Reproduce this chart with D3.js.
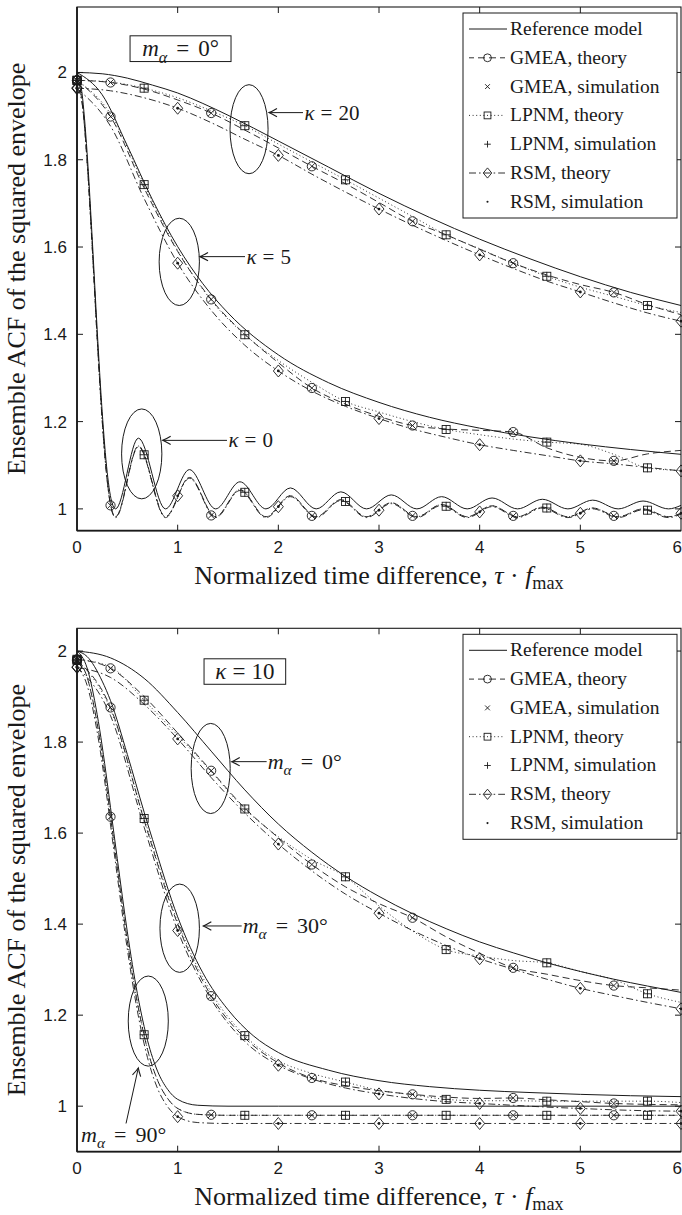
<!DOCTYPE html>
<html>
<head>
<meta charset="utf-8">
<script src="https://cdn.jsdelivr.net/npm/d3@7"></script>
<style>
  body { margin: 0; background: #fff; }
  svg { display: block; }
</style>
</head>
<body>
<svg id="chart" width="682" height="1215"></svg>
<script>
// ---- data ----
const xTicks = [0, 1, 2, 3, 4, 5, 6];
const yTicks = [1, 1.2, 1.4, 1.6, 1.8, 2];
const yTickLabels = ["1", "1.2", "1.4", "1.6", "1.8", "2"];

// common grid for the theory curves (every third)
const xThirds = [0, 0.333, 0.667, 1, 1.333, 1.667, 2, 2.333, 2.667, 3, 3.333, 3.667, 4, 4.333, 4.667, 5, 5.333, 5.667, 6];
const gmeaMarkX = [0, 0.333, 1.333, 2.333, 3.333, 4.333, 5.333];
const lpnmMarkX = [0, 0.667, 1.667, 2.667, 3.667, 4.667, 5.667];
const rsmMarkX = [0, 1, 2, 3, 4, 5, 6];

const legendNames = ["Reference model", "GMEA, theory", "GMEA, simulation", "LPNM, theory", "LPNM, simulation", "RSM, theory", "RSM, simulation"];

// top panel, m_alpha = 0 deg
const xRefA = [0, 0.25, 0.5, 0.75, 1, 1.25, 1.5, 2, 2.5, 3, 3.5, 4, 4.5, 5, 5.5, 6];
const refK20 = [2.0, 1.997, 1.987, 1.971, 1.953, 1.929, 1.902, 1.843, 1.783, 1.723, 1.668, 1.618, 1.573, 1.532, 1.496, 1.466];
const refK5 = [2.0, 1.949, 1.832, 1.708, 1.601, 1.516, 1.449, 1.353, 1.289, 1.244, 1.210, 1.185, 1.165, 1.149, 1.136, 1.125];
const gmeaK20 = [1.982, 1.977, 1.962, 1.937, 1.907, 1.868, 1.827, 1.785, 1.745, 1.702, 1.659, 1.628, 1.595, 1.563, 1.536, 1.514, 1.496, 1.468, 1.445];
const lpnmK20 = [1.982, 1.978, 1.964, 1.942, 1.912, 1.878, 1.836, 1.795, 1.754, 1.712, 1.670, 1.628, 1.596, 1.563, 1.533, 1.508, 1.487, 1.466, 1.450];
const rsmK20 = [1.964, 1.958, 1.942, 1.918, 1.885, 1.847, 1.810, 1.767, 1.726, 1.687, 1.650, 1.615, 1.582, 1.551, 1.522, 1.497, 1.472, 1.449, 1.430];
const gmeaK5 = [1.982, 1.899, 1.735, 1.590, 1.480, 1.400, 1.335, 1.277, 1.240, 1.212, 1.191, 1.183, 1.180, 1.176, 1.140, 1.118, 1.110, 1.126, 1.134];
const lpnmK5 = [1.982, 1.905, 1.743, 1.592, 1.478, 1.399, 1.340, 1.290, 1.246, 1.222, 1.200, 1.182, 1.170, 1.160, 1.153, 1.148, 1.125, 1.094, 1.088];
const rsmK5 = [1.963, 1.877, 1.711, 1.563, 1.455, 1.375, 1.316, 1.270, 1.235, 1.207, 1.183, 1.164, 1.147, 1.134, 1.122, 1.110, 1.103, 1.095, 1.087];

// kappa = 0 oscillates, so it gets its own grid (peaks and troughs)
const xOsc = [0, 0.05, 0.1, 0.15, 0.2, 0.25, 0.3, 0.35, 0.383, 0.61, 0.879, 1.117, 1.377, 1.619, 1.877, 2.12, 2.376, 2.621, 2.876, 3.122, 3.376, 3.622, 3.876, 4.123, 4.376, 4.623, 4.876, 5.123, 5.376, 5.623, 5.876, 6];
const refK0 = [2.0, 1.952, 1.817, 1.624, 1.412, 1.223, 1.084, 1.012, 1.0, 1.162, 1.0, 1.090, 1.0, 1.062, 1.0, 1.048, 1.0, 1.039, 1.0, 1.032, 1.0, 1.028, 1.0, 1.025, 1.0, 1.022, 1.0, 1.020, 1.0, 1.018, 1.0, 1.008];
const gmeaK0 = [1.982, 1.934, 1.799, 1.606, 1.394, 1.205, 1.066, 0.994, 0.982, 1.144, 0.982, 1.072, 0.982, 1.044, 0.982, 1.030, 0.982, 1.021, 0.982, 1.014, 0.982, 1.010, 0.982, 1.007, 0.982, 1.004, 0.982, 1.002, 0.982, 1.000, 0.982, 0.990];
const lpnmK0 = [1.982, 1.934, 1.799, 1.606, 1.394, 1.205, 1.066, 0.994, 0.982, 1.144, 0.982, 1.072, 0.982, 1.044, 0.982, 1.030, 0.982, 1.021, 0.982, 1.014, 0.982, 1.010, 0.982, 1.007, 0.982, 1.004, 0.982, 1.002, 0.982, 1.000, 0.982, 0.990];
const rsmK0 = [1.965, 1.930, 1.797, 1.604, 1.392, 1.203, 1.064, 0.992, 0.980, 1.142, 0.980, 1.070, 0.980, 1.042, 0.980, 1.028, 0.980, 1.019, 0.980, 1.012, 0.980, 1.008, 0.980, 1.005, 0.980, 1.002, 0.980, 1.000, 0.980, 0.998, 0.980, 0.988];
const gmeaK0Marks = [1.982, 1.008, 0.985, 0.984, 0.984, 0.984, 0.984];
const lpnmK0Marks = [1.982, 1.124, 1.038, 1.017, 1.006, 1.002, 0.997];
const rsmK0Marks = [1.965, 1.030, 1.005, 0.997, 0.993, 0.990, 0.990];

// bottom panel, kappa = 10
const refM0 = [2.0, 1.985, 1.940, 1.865, 1.780, 1.695, 1.620, 1.558, 1.505, 1.461, 1.423, 1.390, 1.361, 1.337, 1.315, 1.296, 1.279, 1.264, 1.250];
const gmeaM0 = [1.982, 1.962, 1.900, 1.820, 1.737, 1.655, 1.590, 1.531, 1.482, 1.445, 1.414, 1.372, 1.336, 1.304, 1.290, 1.276, 1.265, 1.260, 1.255];
const lpnmM0 = [1.982, 1.965, 1.892, 1.815, 1.735, 1.653, 1.592, 1.542, 1.504, 1.440, 1.385, 1.344, 1.330, 1.320, 1.315, 1.296, 1.278, 1.247, 1.228];
const rsmM0 = [1.964, 1.942, 1.883, 1.807, 1.722, 1.644, 1.576, 1.517, 1.466, 1.424, 1.386, 1.353, 1.324, 1.301, 1.279, 1.259, 1.243, 1.228, 1.214];

const xRefM30 = [0, 0.1, 0.25, 0.333, 0.5, 0.667, 0.75, 1, 1.25, 1.5, 1.75, 2, 2.5, 3, 3.5, 4, 4.5, 5, 5.5, 6];
const refM30 = [2.0, 1.988, 1.934, 1.891, 1.773, 1.646, 1.586, 1.416, 1.293, 1.212, 1.155, 1.118, 1.079, 1.056, 1.043, 1.035, 1.030, 1.026, 1.023, 1.021];
const gmeaM30 = [1.980, 1.876, 1.628, 1.400, 1.242, 1.150, 1.095, 1.062, 1.045, 1.034, 1.026, 1.020, 1.017, 1.018, 1.014, 1.010, 1.006, 1.004, 1.003];
const lpnmM30 = [1.980, 1.872, 1.632, 1.405, 1.250, 1.155, 1.100, 1.072, 1.053, 1.035, 1.025, 1.015, 1.012, 1.012, 1.011, 1.011, 1.011, 1.011, 1.008];
const rsmM30 = [1.965, 1.858, 1.613, 1.386, 1.235, 1.142, 1.090, 1.060, 1.040, 1.027, 1.017, 1.010, 1.006, 1.002, 0.998, 0.995, 0.992, 0.990, 0.989];

const xM90 = [0, 0.1, 0.2, 0.3, 0.333, 0.4, 0.5, 0.6, 0.667, 0.7, 0.8, 0.9, 1.0, 1.2, 1.5, 2, 3, 4, 5, 6];
const refM90 = [2.0, 1.963, 1.861, 1.712, 1.656, 1.544, 1.383, 1.247, 1.175, 1.145, 1.077, 1.037, 1.015, 1.002, 1.0, 1.0, 1.0, 1.0, 1.0, 1.0];
const gmeaM90 = [1.980, 1.943, 1.841, 1.692, 1.636, 1.524, 1.363, 1.227, 1.155, 1.125, 1.057, 1.017, 0.995, 0.982, 0.980, 0.980, 0.980, 0.980, 0.980, 0.980];
const lpnmM90 = [1.980, 1.943, 1.841, 1.692, 1.636, 1.524, 1.363, 1.227, 1.157, 1.125, 1.057, 1.017, 0.995, 0.982, 0.980, 0.980, 0.980, 0.980, 0.980, 0.980];
const rsmM90 = [1.965, 1.925, 1.823, 1.674, 1.618, 1.506, 1.345, 1.209, 1.137, 1.107, 1.039, 0.999, 0.977, 0.964, 0.962, 0.962, 0.962, 0.962, 0.962, 0.962];

// ---- drawing ----
const svg = d3.select("#chart");
const serif = "'Liberation Serif', 'Times New Roman', serif";
const sans = "'Liberation Sans', Arial, sans-serif";
const ink = "#1a1a1a";

const x = d3.scaleLinear().domain([0, 6]).range([77, 681]);

const methods = [
    { key: "gmea", dash: "7,4", mark: "circle", sim: "cross", markX: gmeaMarkX },
    { key: "lpnm", dash: "1,2.6", mark: "square", sim: "plus", markX: lpnmMarkX },
    { key: "rsm", dash: "7,3,1.6,3", mark: "diamond", sim: "dot", markX: rsmMarkX }
];

// linear lookup of a series at a given x
function valueAt(xs, ys, xv) {
    const i = d3.bisectLeft(xs, xv - 1e-6);
    if (i <= 0) return ys[0];
    if (i >= xs.length) return ys[ys.length - 1];
    const t = (xv - xs[i - 1]) / (xs[i] - xs[i - 1]);
    return ys[i - 1] + t * (ys[i] - ys[i - 1]);
}

function drawMark(g, type, cx, cy, s) {
    const st = { stroke: ink, "stroke-width": 0.9, fill: "none" };
    let el;
    if (type === "circle") {
        el = g.append("circle").attr("cx", cx).attr("cy", cy).attr("r", 4.6 * s);
    } else if (type === "square") {
        el = g.append("rect").attr("x", cx - 4 * s).attr("y", cy - 4 * s).attr("width", 8 * s).attr("height", 8 * s);
    } else if (type === "diamond") {
        el = g.append("path").attr("d", `M${cx},${cy - 6 * s}L${cx + 5 * s},${cy}L${cx},${cy + 6 * s}L${cx - 5 * s},${cy}Z`);
    } else if (type === "cross") {
        const a = 3.2 * s;
        el = g.append("path").attr("d", `M${cx - a},${cy - a}L${cx + a},${cy + a}M${cx - a},${cy + a}L${cx + a},${cy - a}`);
    } else if (type === "plus") {
        const a = 4.4 * s;
        el = g.append("path").attr("d", `M${cx - a},${cy}L${cx + a},${cy}M${cx},${cy - a}L${cx},${cy + a}`);
    } else {
        el = g.append("circle").attr("cx", cx).attr("cy", cy).attr("r", 1.4 * s);
        st.fill = ink; st.stroke = "none";
    }
    Object.entries(st).forEach(([k, v]) => el.attr(k, v));
}

// math-ish label built from parts: {t, it, sub, dx}
function mathText(g, px, py, parts, size, sub) {
    const drop = size * (sub || 0.28);
    const t = g.append("text").attr("x", px).attr("y", py)
        .attr("font-family", serif).attr("font-size", size).attr("fill", ink);
    let down = 0;
    parts.forEach(p => {
        const ts = t.append("tspan").text(p.t);
        if (p.it) ts.attr("font-style", "italic");
        if (p.dx) ts.attr("dx", p.dx);
        if (p.sub && !down) { ts.attr("dy", drop).attr("font-size", size * 0.7); down = drop; }
        else if (p.sub) { ts.attr("font-size", size * 0.7); }
        else if (down) { ts.attr("dy", -down); down = 0; }
    });
    return t;
}

function arrow(g, x1, y1, x2, y2) {
    g.append("line").attr("x1", x1).attr("y1", y1).attr("x2", x2).attr("y2", y2)
        .attr("stroke", ink).attr("stroke-width", 1);
    const ang = Math.atan2(y2 - y1, x2 - x1) * 180 / Math.PI;
    g.append("path")
        .attr("d", "M-8,-4.2Q-3,-1.2 0,0Q-3,1.2 -8,4.2")
        .attr("transform", `translate(${x2},${y2}) rotate(${ang})`)
        .attr("fill", "none").attr("stroke", ink).attr("stroke-width", 1.1);
}

function drawPanel(p) {
    const y = d3.scaleLinear().domain(p.yDomain).range([p.bottom, p.top]);
    const g = svg.append("g");
    const left = x(0), right = x(6);

    svg.append("clipPath").attr("id", "clip" + p.id).append("rect")
        .attr("x", left).attr("y", p.top).attr("width", right - left).attr("height", p.bottom - p.top);
    const plot = g.append("g").attr("clip-path", `url(#clip${p.id})`);
    const marks = g.append("g");

    const line = d3.line().x(d => x(d[0])).y(d => y(d[1])).curve(d3.curveMonotoneX);

    p.groups.forEach(gr => {
        plot.append("path").datum(d3.zip(gr.refX, gr.ref)).attr("d", line)
            .attr("fill", "none").attr("stroke", ink).attr("stroke-width", 1);
        methods.forEach((m, mi) => {
            const ys = gr.models[mi];
            plot.append("path").datum(d3.zip(gr.modelX, ys)).attr("d", line)
                .attr("fill", "none").attr("stroke", ink).attr("stroke-width", 0.9)
                .attr("stroke-dasharray", m.dash);
            m.markX.forEach((mx, k) => {
                const my = gr.marks ? gr.marks[mi][k] : valueAt(gr.modelX, ys, mx);
                drawMark(marks, m.mark, x(mx), y(my), 1);
                drawMark(marks, m.sim, x(mx), y(my), 1);
            });
        });
    });

    // frame, ticks inward on all four sides
    g.append("rect").attr("x", left).attr("y", p.top).attr("width", right - left).attr("height", p.bottom - p.top)
        .attr("fill", "none").attr("stroke", ink).attr("stroke-width", 1.1);
    g.append("line").attr("x1", left).attr("x2", left).attr("y1", p.top).attr("y2", p.bottom)
        .attr("stroke", ink).attr("stroke-width", 1.8);
    g.append("line").attr("x1", left).attr("x2", right).attr("y1", p.bottom).attr("y2", p.bottom)
        .attr("stroke", ink).attr("stroke-width", 1.8);

    xTicks.forEach(v => {
        // the last label sits on the page edge, keep it inside
        const lastOne = v === 6;
        g.append("text").attr("x", lastOne ? 682 : x(v)).attr("y", p.bottom + 22)
            .attr("text-anchor", lastOne ? "end" : "middle")
            .attr("font-family", sans).attr("font-size", 17).attr("fill", ink).text(v);
        if (v > 0 && v < 6) {
            g.append("line").attr("x1", x(v)).attr("x2", x(v)).attr("y1", p.bottom).attr("y2", p.bottom - 6)
                .attr("stroke", ink);
            g.append("line").attr("x1", x(v)).attr("x2", x(v)).attr("y1", p.top).attr("y2", p.top + 6)
                .attr("stroke", ink);
        }
    });
    yTicks.forEach((v, i) => {
        g.append("text").attr("x", left - 10).attr("y", y(v) + 6).attr("text-anchor", "end")
            .attr("font-family", sans).attr("font-size", 17).attr("fill", ink).text(yTickLabels[i]);
        g.append("line").attr("x1", left).attr("x2", left + 6).attr("y1", y(v)).attr("y2", y(v)).attr("stroke", ink);
        g.append("line").attr("x1", right).attr("x2", right - 6).attr("y1", y(v)).attr("y2", y(v)).attr("stroke", ink);
    });

    // axis titles
    mathText(g, (left + right) / 2, p.bottom + 53, [
        { t: "Normalized time difference, " }, { t: "τ", it: true }, { t: " · " }, { t: "f", it: true },
        { t: "max", sub: true }
    ], 26, 0.2).attr("text-anchor", "middle");
    g.append("text")
        .attr("transform", `translate(24.5,${(p.top + p.bottom) / 2}) rotate(-90)`)
        .attr("text-anchor", "middle").attr("font-family", serif).attr("font-size", 26).attr("fill", ink)
        .text("Ensemble ACF of the squared envelope");

    // boxed parameter label
    const bx0 = x(p.box.x0), bx1 = x(p.box.x1), by0 = y(p.box.y0), by1 = y(p.box.y1);
    g.append("rect").attr("x", bx0).attr("y", by0).attr("width", bx1 - bx0).attr("height", by1 - by0)
        .attr("fill", "#fff").attr("stroke", ink).attr("stroke-width", 1);
    mathText(g, (bx0 + bx1) / 2, (by0 + by1) / 2 + 7.5, p.box.parts, 23).attr("text-anchor", "middle");

    // ellipses, arrows and their labels
    p.notes.forEach(n => {
        g.append("ellipse").attr("cx", x(n.cx)).attr("cy", y(n.cy))
            .attr("rx", x(n.rx) - x(0)).attr("ry", y(n.cy - n.ry) - y(n.cy))
            .attr("fill", "none").attr("stroke", ink).attr("stroke-width", 1);
        arrow(g, x(n.ax1), y(n.ay1), x(n.ax2), y(n.ay2));
        mathText(g, x(n.tx), y(n.ty) + 7, n.parts, n.size || 21);
    });

    // legend
    const lg = g.append("g").attr("transform", `translate(${right - 218},${p.top + 6})`);
    lg.append("rect").attr("width", 214).attr("height", 205).attr("fill", "#fff")
        .attr("stroke", ink).attr("stroke-width", 1);
    const rowY = i => 16 + i * 28.8;
    legendNames.forEach((name, i) => {
        lg.append("text").attr("x", 47).attr("y", rowY(i) + 6).attr("font-family", serif)
            .attr("font-size", 19.5).attr("fill", ink).text(name);
    });
    lg.append("line").attr("x1", 6).attr("x2", 44).attr("y1", rowY(0)).attr("y2", rowY(0))
        .attr("stroke", ink).attr("stroke-width", 1);
    methods.forEach((m, mi) => {
        const ry = rowY(1 + mi * 2);
        lg.append("line").attr("x1", 6).attr("x2", 42).attr("y1", ry).attr("y2", ry)
            .attr("stroke", ink).attr("stroke-width", 0.9).attr("stroke-dasharray", m.dash)
            .attr("stroke-dashoffset", mi === 0 ? 2 : 0);
        drawMark(lg, m.mark, 24.5, ry, 0.85);
        drawMark(lg, m.sim, 24.5, rowY(2 + mi * 2), 0.75);
    });
}

const kappa = [{ t: "κ", it: true }];
const mAlpha = [{ t: "m", it: true }, { t: "α", it: true, sub: true }];
const eq = (v, gap) => [{ t: "=", dx: gap }, { t: v, dx: gap }];

drawPanel({
    id: 1, top: 7, bottom: 530.7, yDomain: [0.95, 2.15],
    groups: [
        { refX: xRefA, ref: refK20, modelX: xThirds, models: [gmeaK20, lpnmK20, rsmK20] },
        { refX: xRefA, ref: refK5, modelX: xThirds, models: [gmeaK5, lpnmK5, rsmK5] },
        { refX: xOsc, ref: refK0, modelX: xOsc, models: [gmeaK0, lpnmK0, rsmK0],
          marks: [gmeaK0Marks, lpnmK0Marks, rsmK0Marks] }
    ],
    box: { x0: 0.527, x1: 1.53, y0: 2.084, y1: 2.025, parts: mAlpha.concat(eq("0°", 9)) },
    notes: [
        { cx: 1.709, cy: 1.870, rx: 0.189, ry: 0.102, ax1: 2.245, ay1: 1.908, ax2: 1.907, ay2: 1.908,
          tx: 2.26, ty: 1.908, parts: kappa.concat(eq("20", 6)) },
        { cx: 1.016, cy: 1.566, rx: 0.2, ry: 0.100, ax1: 1.669, ay1: 1.578, ax2: 1.222, ay2: 1.578,
          tx: 1.684, ty: 1.578, parts: kappa.concat(eq("5", 6)) },
        { cx: 0.643, cy: 1.126, rx: 0.2, ry: 0.103, ax1: 1.49, ay1: 1.157, ax2: 0.851, ay2: 1.157,
          tx: 1.505, ty: 1.157, parts: kappa.concat(eq("0", 6)) }
    ]
});

drawPanel({
    id: 2, top: 628.3, bottom: 1151.7, yDomain: [0.9, 2.05],
    groups: [
        { refX: xThirds, ref: refM0, modelX: xThirds, models: [gmeaM0, lpnmM0, rsmM0] },
        { refX: xRefM30, ref: refM30, modelX: xThirds, models: [gmeaM30, lpnmM30, rsmM30] },
        { refX: xM90, ref: refM90, modelX: xM90, models: [gmeaM90, lpnmM90, rsmM90] }
    ],
    box: { x0: 1.262, x1: 2.073, y0: 1.983, y1: 1.927, parts: kappa.concat(eq("10", 6)) },
    notes: [
        { cx: 1.328, cy: 1.742, rx: 0.194, ry: 0.099, ax1: 1.884, ay1: 1.757, ax2: 1.537, ay2: 1.757,
          tx: 1.894, ty: 1.757, size: 22, parts: mAlpha.concat(eq("0°", 9)) },
        { cx: 1.020, cy: 1.391, rx: 0.196, ry: 0.097, ax1: 1.636, ay1: 1.396, ax2: 1.255, ay2: 1.396,
          tx: 1.646, ty: 1.396, size: 22, parts: mAlpha.concat(eq("30°", 9)) },
        { cx: 0.708, cy: 1.187, rx: 0.199, ry: 0.099, ax1: 0.487, ay1: 0.962, ax2: 0.609, ay2: 1.084,
          tx: 0.04, ty: 0.937, size: 22, parts: mAlpha.concat(eq("90°", 9)) }
    ]
});
</script>
</body>
</html>
